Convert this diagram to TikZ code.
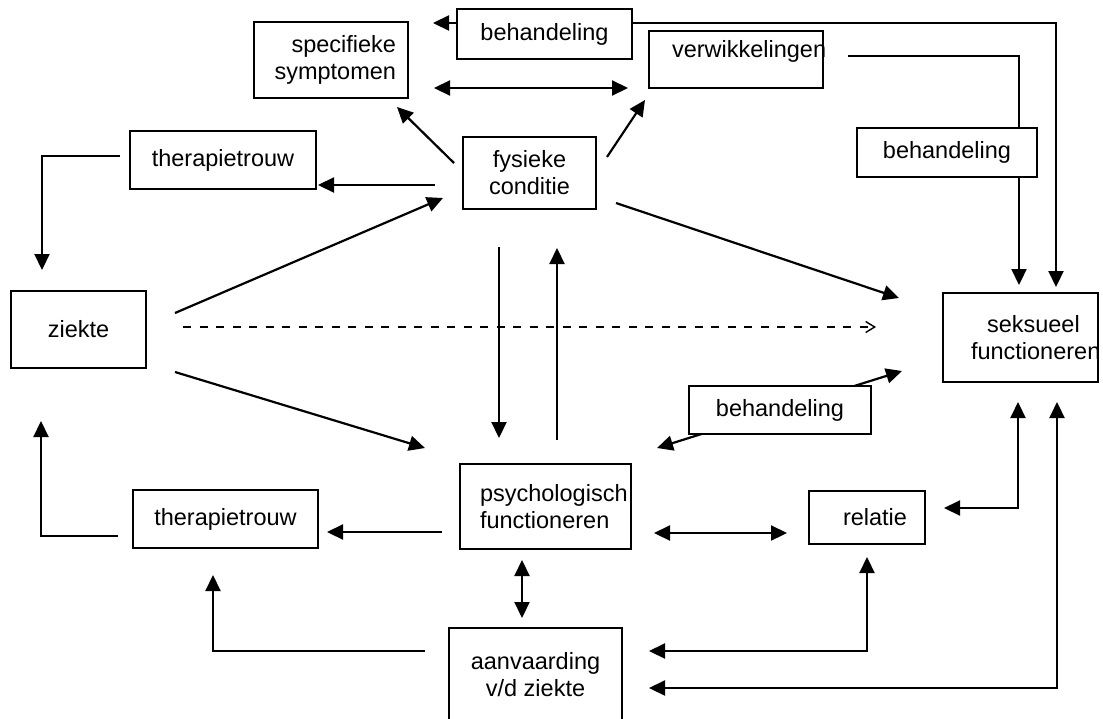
\documentclass[tikz,border=0pt]{standalone}
\usepackage{fontspec}
\setmainfont{Liberation Sans}
\usetikzlibrary{arrows.meta,backgrounds}

\begin{document}
\begin{tikzpicture}[x=1pt,y=-1pt,
    blok/.style={draw, fill=white, line width=1.4pt, inner sep=0pt,
      font=\fontsize{23.5}{27}\selectfont},
    pijl/.style={line width=2.2pt, -{Triangle[length=16pt,width=15pt]}},
    tweepijl/.style={line width=2.2pt,
      {Triangle[length=16pt,width=15pt]}-{Triangle[length=16pt,width=15pt]}},
    stippel/.style={line width=1.6pt, dash pattern=on 8pt off 8.5pt,
      -{Straight Barb[length=9pt,width=11pt,line width=1.4pt]}}]
    \useasboundingbox (0,0) rectangle (1103,718);
    % Blokken
    \node[blok, minimum width=154pt, minimum height=76pt, text width=130pt, align=right]
      (spec) at (331,60) {specifieke\\symptomen};
    \node[blok, minimum width=175pt, minimum height=50pt] (behBoven) at (544.5,34) {behandeling};
    \node[blok, minimum width=174pt, minimum height=57pt, text width=128pt, align=left]
      (verw) at (736,59.5) {\mbox{verwikkelingen}\\[-6pt]~};
    \node[blok, minimum width=133pt, minimum height=72pt, align=center]
      (fys) at (529.5,173) {fysieke\\conditie};
    \node[blok, minimum width=186pt, minimum height=58pt] (therBoven) at (223,160) {therapietrouw};
    \node[blok, minimum width=135pt, minimum height=77pt] (ziekte) at (78.5,329.5) {ziekte};
    \node[blok, minimum width=180pt, minimum height=49pt] (behRechts) at (947,152.5) {behandeling};
    \node[blok, minimum width=155pt, minimum height=89pt, text width=99pt, align=left]
      (seks) at (1020.5,337.5) {\mbox{\hspace*{16pt}seksueel}\\\mbox{functioneren}};
    \node[blok, minimum width=182pt, minimum height=48pt] (behMidden) at (780,410) {behandeling};
    \node[blok, minimum width=171pt, minimum height=85pt, text width=131pt, align=left]
      (psych) at (545.5,506.5) {\mbox{psychologisch}\\functioneren};
    \node[blok, minimum width=185pt, minimum height=58pt] (therOnder) at (225.5,519) {therapietrouw};
    \node[blok, minimum width=116pt, minimum height=53pt, text width=80pt, align=right]
      (relatie) at (867,517.5) {relatie};
    \node[blok, minimum width=173pt, minimum height=94pt, align=center]
      (aanv) at (535.5,675) {aanvaarding\\v/d ziekte};

    % Eindpunten van de pijlen
    \coordinate (bt-a) at (433,23);  \coordinate (bt-b) at (1056,23); \coordinate (bt-c) at (1056,287);
    \coordinate (vw-a) at (848,56);  \coordinate (vw-b) at (1019,56); \coordinate (vw-c) at (1019,285);
    \coordinate (sv-a) at (434,88);  \coordinate (sv-b) at (628,88);
    \coordinate (fs-a) at (454,163); \coordinate (fs-b) at (397,107);
    \coordinate (fv-a) at (607,157); \coordinate (fv-b) at (645,100);
    \coordinate (ft-a) at (435,185); \coordinate (ft-b) at (318,185);
    \coordinate (tz-a) at (120,156); \coordinate (tz-b) at (42,156); \coordinate (tz-c) at (42,270);
    \coordinate (zf-a) at (175,313); \coordinate (zf-b) at (443,198);
    \coordinate (fk-a) at (616,203); \coordinate (fk-b) at (899,298);
    \coordinate (zk-a) at (183,327); \coordinate (zk-b) at (876,327);
    \coordinate (fp-a) at (499,247); \coordinate (fp-b) at (499,438);
    \coordinate (pf-a) at (557,440); \coordinate (pf-b) at (557,248);
    \coordinate (zp-a) at (175,372); \coordinate (zp-b) at (425,448);
    \coordinate (bm-a) at (657,448); \coordinate (bm-b) at (902,371);
    \coordinate (pt-a) at (442,532); \coordinate (pt-b) at (327,532);
    \coordinate (tb-a) at (118,536); \coordinate (tb-b) at (41,536); \coordinate (tb-c) at (41,421);
    \coordinate (pa-a) at (522,560); \coordinate (pa-b) at (522,618);
    \coordinate (at-a) at (425,651); \coordinate (at-b) at (213,651); \coordinate (at-c) at (213,575);
    \coordinate (pr-a) at (654,533); \coordinate (pr-b) at (787,533);
    \coordinate (rs-a) at (944,508); \coordinate (rs-b) at (1018,508); \coordinate (rs-c) at (1018,402);
    \coordinate (ar-a) at (649,651); \coordinate (ar-b) at (867,651); \coordinate (ar-c) at (867,557);
    \coordinate (as-a) at (649,688); \coordinate (as-b) at (1057,688); \coordinate (as-c) at (1057,402);

    % Pijlen (achter de blokken)
    \begin{pgfonlayer}{background}
    \draw[tweepijl] (bt-a) -- (bt-b) -- (bt-c);
    \draw[pijl] (vw-a) -- (vw-b) -- (vw-c);
    \draw[tweepijl] (sv-a) -- (sv-b);
    \draw[pijl] (fs-a) -- (fs-b);
    \draw[pijl] (fv-a) -- (fv-b);
    \draw[pijl] (ft-a) -- (ft-b);
    \draw[pijl] (tz-a) -- (tz-b) -- (tz-c);
    \draw[pijl] (zf-a) -- (zf-b);
    \draw[pijl] (fk-a) -- (fk-b);
    \draw[stippel] (zk-a) -- (zk-b);
    \draw[pijl] (fp-a) -- (fp-b);
    \draw[pijl] (pf-a) -- (pf-b);
    \draw[pijl] (zp-a) -- (zp-b);
    \draw[tweepijl] (bm-a) -- (bm-b);
    \draw[pijl] (pt-a) -- (pt-b);
    \draw[pijl] (tb-a) -- (tb-b) -- (tb-c);
    \draw[tweepijl] (pa-a) -- (pa-b);
    \draw[pijl] (at-a) -- (at-b) -- (at-c);
    \draw[tweepijl] (pr-a) -- (pr-b);
    \draw[tweepijl] (rs-a) -- (rs-b) -- (rs-c);
    \draw[tweepijl] (ar-a) -- (ar-b) -- (ar-c);
    \draw[tweepijl] (as-a) -- (as-b) -- (as-c);
    \end{pgfonlayer}
\end{tikzpicture}
\end{document}
